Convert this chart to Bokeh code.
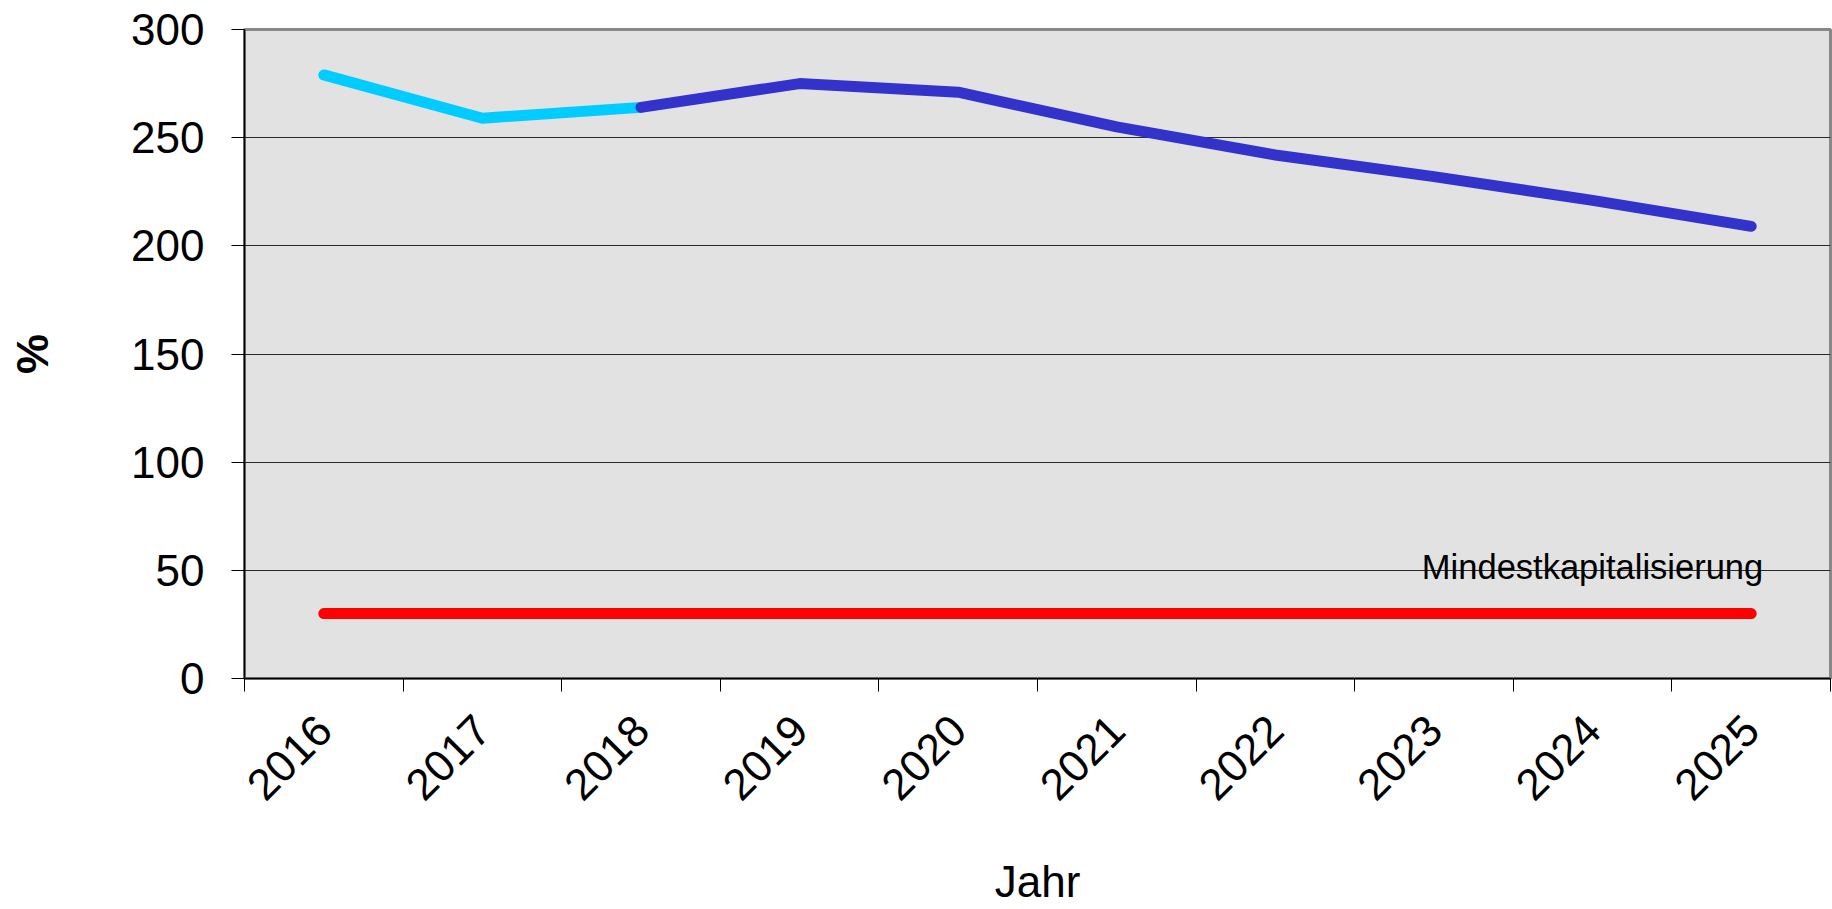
import math
from bokeh.plotting import figure
from bokeh.models import Range1d, FixedTicker
from bokeh.core.properties import value
from bokeh.embed import file_html
from bokeh.resources import INLINE

years = ["2016", "2017", "2018", "2019", "2020", "2021", "2022", "2023", "2024", "2025"]
ist_years = ["2016", "2017", "2018"]
ist_values = [279, 259, 264]
prognose_years = ["2018", "2019", "2020", "2021", "2022", "2023", "2024", "2025"]
prognose_values = [264, 275, 271, 255, 242, 232, 221, 209]
mindest_values = [30, 30, 30, 30, 30, 30, 30, 30, 30, 30]
y_ticks = [0, 50, 100, 150, 200, 250, 300]
y_title = "%"
x_title = "Jahr"
mindest_label = "Mindestkapitalisierung"

FONT = "Liberation Sans"

pos = {y: i + 0.5 for i, y in enumerate(years)}

p = figure(width=1832, height=909, output_backend="svg", toolbar_location=None,
           x_range=Range1d(0, len(years)), y_range=Range1d(0, 300),
           min_border_left=244, min_border_top=29, min_border_right=2, min_border_bottom=231)

p.background_fill_color = "#E2E2E2"
p.border_fill_color = "white"
p.outline_line_color = "#888888"
p.outline_line_width = 3

# lines
p.line([pos[y] for y in years], mindest_values, line_color="#FF0000", line_width=11, line_cap="round")
p.line([pos[y] for y in ist_years], ist_values, line_color="#00CCFF", line_width=11,
       line_cap="round", line_join="round")
p.line([pos[y] for y in prognose_years], prognose_values, line_color="#3333CC", line_width=11,
       line_cap="round", line_join="round")

p.text(x=[pos[years[-1]]], y=[mindest_values[-1]], text=[mindest_label],
       text_align="right", text_baseline="alphabetic", x_offset=12, y_offset=-47,
       text_font=value(FONT), text_font_size="34.5px", text_color="black")

# grid
p.xgrid.visible = False
p.ygrid.ticker = FixedTicker(ticks=y_ticks)
p.ygrid.grid_line_color = "#2a2a2a"
p.ygrid.grid_line_width = 1

# y axis
ya = p.yaxis[0]
ya.ticker = FixedTicker(ticks=y_ticks)
ya.major_tick_out = 13
ya.major_tick_in = 0
ya.minor_tick_out = 0
ya.minor_tick_in = 0
ya.major_tick_line_color = "black"
ya.axis_line_color = "black"
ya.axis_line_width = 1.5
ya.major_label_standoff = 27
ya.major_label_text_font = FONT
ya.major_label_text_font_size = "44px"
ya.major_label_text_color = "black"
ya.axis_label = y_title
ya.axis_label_text_font = FONT
ya.axis_label_text_font_size = "45px"
ya.axis_label_text_font_style = "bold"
ya.axis_label_text_color = "black"
ya.axis_label_standoff = 70

# x axis
xa = p.xaxis[0]
xa.ticker = FixedTicker(ticks=[pos[y] for y in years], minor_ticks=list(range(len(years) + 1)))
xa.major_label_overrides = {pos[y]: y for y in years}
xa.major_tick_out = 0
xa.major_tick_in = 0
xa.minor_tick_out = 13
xa.minor_tick_in = 0
xa.minor_tick_line_color = "black"
xa.axis_line_color = "black"
xa.axis_line_width = 1.5
xa.major_label_orientation = math.pi / 4
xa.major_label_standoff = 31
xa.major_label_text_font = FONT
xa.major_label_text_font_size = "44px"
xa.major_label_text_color = "black"
xa.axis_label = x_title
xa.axis_label_text_font = FONT
xa.axis_label_text_font_size = "44px"
xa.axis_label_text_font_style = "normal"
xa.axis_label_text_color = "black"
xa.axis_label_standoff = 40

open("out.html", "w").write(file_html(p, INLINE))
